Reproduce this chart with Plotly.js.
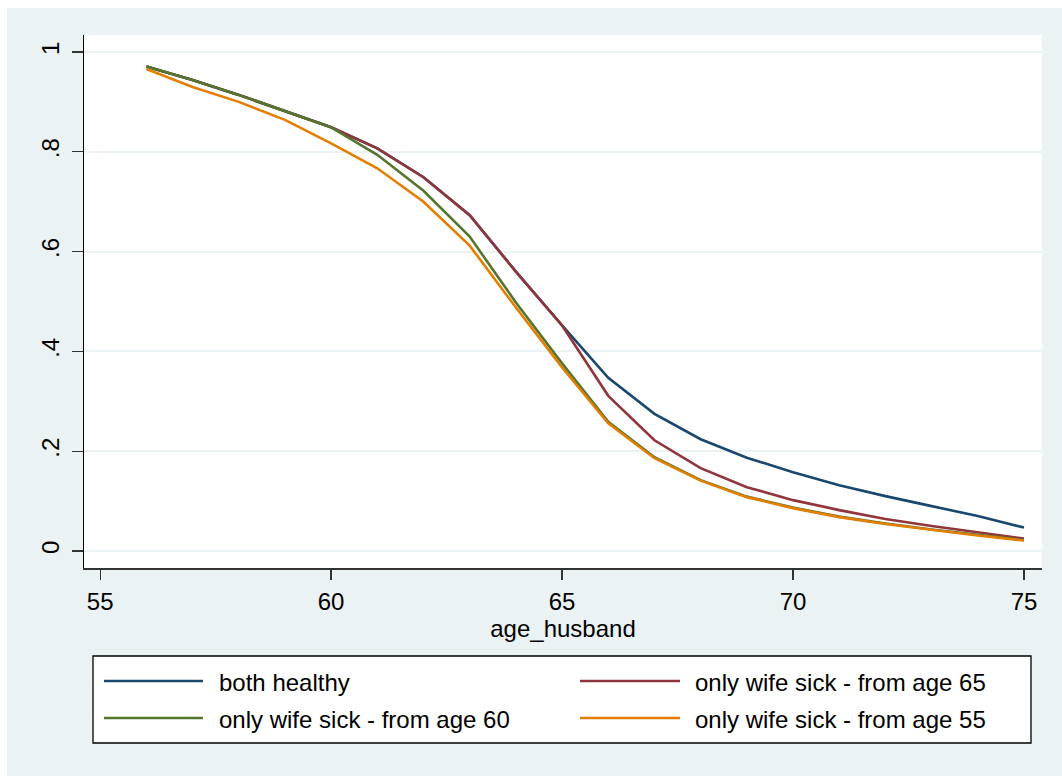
<!DOCTYPE html>
<html>
<head>
<meta charset="utf-8">
<script src="https://cdn.plot.ly/plotly-3.0.1.min.js"></script>
<style>
  html, body { margin: 0; padding: 0; background: #ffffff; }
  #chart { position: absolute; left: 7px; top: 8px; width: 1055px; height: 768px; }
</style>
</head>
<body>
<div id="chart"></div>
<script>
// Husband's age on the x axis
const ages = [56, 57, 58, 59, 60, 61, 62, 63, 64, 65, 66, 67, 68, 69, 70, 71, 72, 73, 74, 75];

// Predicted probabilities per scenario
const bothHealthy = [0.971, 0.944, 0.914, 0.882, 0.849, 0.807, 0.749, 0.673, 0.560, 0.452,
                     0.347, 0.275, 0.224, 0.187, 0.158, 0.132, 0.110, 0.090, 0.070, 0.047];
const wifeSick65  = [0.971, 0.944, 0.914, 0.882, 0.849, 0.807, 0.749, 0.673, 0.560, 0.452,
                     0.311, 0.222, 0.166, 0.128, 0.102, 0.082, 0.064, 0.050, 0.037, 0.025];
const wifeSick60  = [0.971, 0.944, 0.914, 0.882, 0.849, 0.794, 0.722, 0.630, 0.498, 0.376,
                     0.259, 0.188, 0.142, 0.109, 0.087, 0.069, 0.055, 0.043, 0.032, 0.022];
const wifeSick55  = [0.966, 0.930, 0.900, 0.864, 0.817, 0.767, 0.700, 0.612, 0.488, 0.368,
                     0.256, 0.186, 0.141, 0.108, 0.086, 0.068, 0.054, 0.042, 0.031, 0.021];

const seriesNames  = ["both healthy", "only wife sick - from age 65",
                      "only wife sick - from age 60", "only wife sick - from age 55"];
const seriesValues = [bothHealthy, wifeSick65, wifeSick60, wifeSick55];
const seriesColors = ["#1a476f", "#90353b", "#55752f", "#e37e00"];

const xTicks = [55, 60, 65, 70, 75];
const yTicks = [0, 0.2, 0.4, 0.6, 0.8, 1];
const yTickText = ["0", ".2", ".4", ".6", ".8", "1"];

const FONT = "Liberation Sans, Arial, Helvetica, sans-serif";
const FONT_SIZE = 24;

const traces = seriesNames.map((name, i) => ({
  type: "scatter",
  mode: "lines",
  name: name,
  x: ages,
  y: seriesValues[i],
  line: { color: seriesColors[i], width: 2.6 },
  showlegend: false
}));

// Legend drawn as a framed two-column key beneath the axis title
const legendBox = { x0: 0.0094, x1: 0.9885, y0: -0.1651, y1: -0.3283 };
const rowY = [-0.2120, -0.2814];
const colLine = [[0.0209, 0.1242], [0.5177, 0.6221]];
const colText = [0.1390, 0.6358];
// order inside the key: row-major, two per row
const keyOrder = [0, 1, 2, 3];

const shapes = [{
  type: "rect", xref: "paper", yref: "paper",
  x0: legendBox.x0, x1: legendBox.x1, y0: legendBox.y0, y1: legendBox.y1,
  line: { color: "#000000", width: 1.3 }, fillcolor: "#ffffff", layer: "above"
}];
const annotations = [];
keyOrder.forEach((s, k) => {
  const r = Math.floor(k / 2), c = k % 2;
  shapes.push({
    type: "line", xref: "paper", yref: "paper",
    x0: colLine[c][0], x1: colLine[c][1], y0: rowY[r], y1: rowY[r],
    line: { color: seriesColors[s], width: 2.6 }, layer: "above"
  });
  annotations.push({
    xref: "paper", yref: "paper", x: colText[c], y: rowY[r] - 0.003,
    xanchor: "left", yanchor: "middle", showarrow: false,
    text: seriesNames[s], font: { family: FONT, size: FONT_SIZE, color: "#000000" }
  });
});

const layout = {
  width: 1055,
  height: 768,
  margin: { l: 77, r: 20, t: 27, b: 208 },
  paper_bgcolor: "#eaf2f3",
  plot_bgcolor: "#ffffff",
  font: { family: FONT, size: FONT_SIZE, color: "#000000" },
  showlegend: false,
  xaxis: {
    range: [54.65, 75.39],
    tickvals: xTicks,
    ticktext: xTicks.map(String),
    ticks: "outside", ticklen: 10, tickwidth: 1.3, tickcolor: "#333333",
    showline: true, linecolor: "#333333", linewidth: 1.5,
    showgrid: false, zeroline: false,
    ticklabelstandoff: 2,
    tickfont: { family: FONT, size: FONT_SIZE, color: "#000000" },
    title: { text: "age_husband", font: { family: FONT, size: FONT_SIZE, color: "#000000" }, standoff: 0 }
  },
  yaxis: {
    range: [-0.034, 1.034],
    tickvals: yTicks,
    ticktext: yTickText,
    tickangle: -90,
    ticks: "outside", ticklen: 11, tickwidth: 1.3, tickcolor: "#333333",
    showline: true, linecolor: "#000000", linewidth: 1.5,
    showgrid: true, gridcolor: "#eaf2f3", gridwidth: 2,
    zeroline: false,
    ticklabelstandoff: 3,
    tickfont: { family: FONT, size: FONT_SIZE, color: "#000000" }
  },
  shapes: shapes,
  annotations: annotations
};

Plotly.newPlot("chart", traces, layout, { displayModeBar: false, staticPlot: true });
</script>
</body>
</html>
